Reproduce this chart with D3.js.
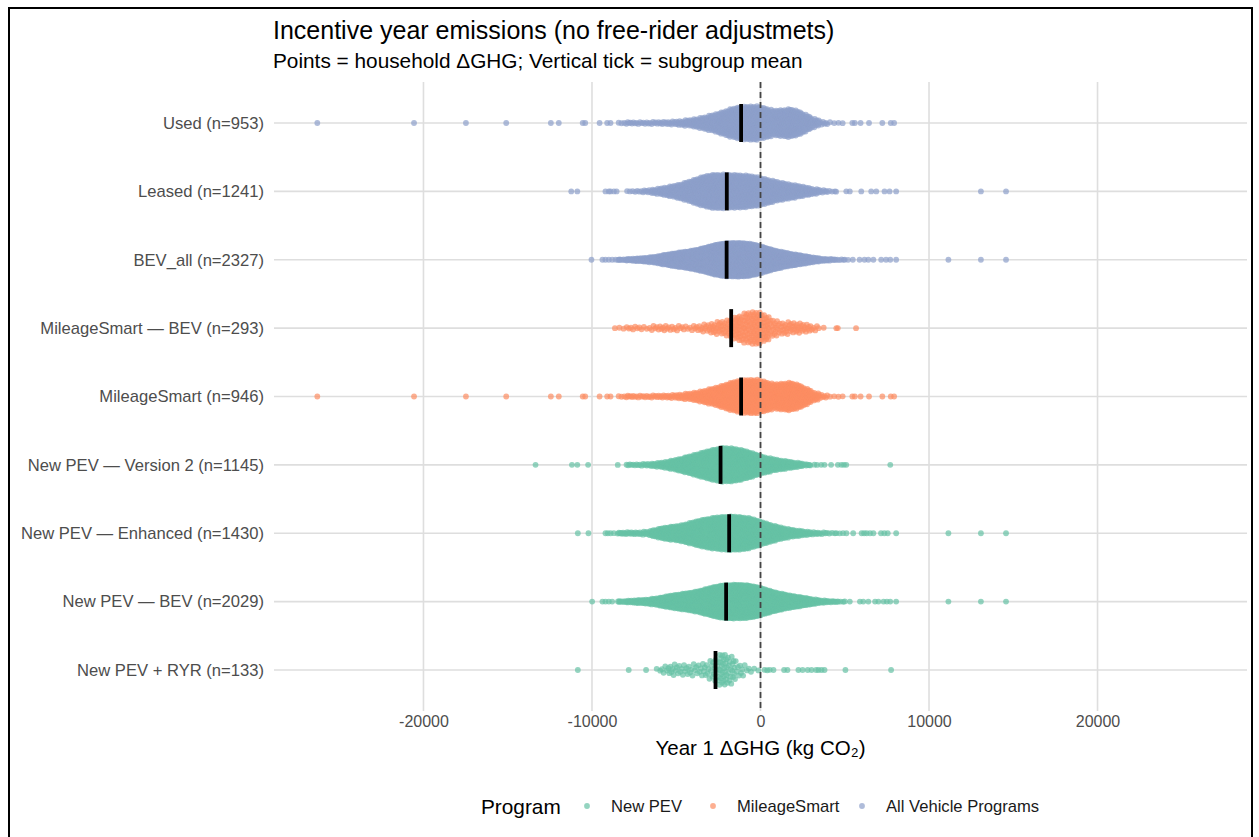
<!DOCTYPE html>
<html lang="en">
<head>
  <meta charset="UTF-8" />
  <title>Incentive year emissions</title>
  <script src="https://d3js.org/d3.v7.min.js"></script>
  <style>
    body { margin: 0; background: white; }
    svg { display: block; font-family: "Liberation Sans", Arial, sans-serif; }
    .axis text { fill: #4d4d4d; }
    .axis .domain { display: none; }
  </style>
</head>
<body>
  <svg width="1259" height="837"></svg>

  <script>
    // subgroups, top to bottom
    const groups = [
      "Used (n=953)", "Leased (n=1241)", "BEV_all (n=2327)",
      "MileageSmart \u2014 BEV (n=293)", "MileageSmart (n=946)",
      "New PEV \u2014 Version 2 (n=1145)", "New PEV \u2014 Enhanced (n=1430)",
      "New PEV \u2014 BEV (n=2029)", "New PEV + RYR (n=133)"
    ];
    const programOf = [
      "All Vehicle Programs", "All Vehicle Programs", "All Vehicle Programs",
      "MileageSmart", "MileageSmart",
      "New PEV", "New PEV", "New PEV", "New PEV"
    ];
    const programs = ["New PEV", "MileageSmart", "All Vehicle Programs"];
    const programColors = ["#66c2a5", "#fc8d62", "#8da0cb"];

    // subgroup means (kg CO2)
    const means = [-1150, -2000, -2010, -1740, -1150, -2370, -1860, -2040, -2670];

    // household counts per 500 kg bin, bins starting at -8500 up to 4500
    const binStart = -8500;
    const binWidth = 500;
    const countsUsed     = [3,6,5,5,6,7,8,11,15,22,32,41,56,69,82,82,86,78,54,65,76,61,39,17,6,2,2];
    const countsLeased   = [0,3,4,7,13,22,31,42,57,75,90,103,96,96,98,90,88,74,60,50,42,34,24,14,7,3,0];
    const countsBevAll   = [6,12,18,24,34,55,72,84,98,114,139,167,191,186,195,186,171,139,110,90,69,57,41,24,12,8,4];
    const countsMsBev    = [2,4,4,3,5,6,5,5,4,6,8,12,14,18,28,32,38,29,16,12,12,11,9,5,1,0,0];
    const countsMs       = [3,6,5,5,6,7,8,11,15,22,32,41,55,68,81,82,86,77,54,64,75,60,39,17,6,2,2];
    const countsPevV2    = [0,5,5,7,12,19,29,44,58,75,92,106,120,116,106,92,73,53,41,31,24,15,5,0,0,0,0];
    const countsPevEnh   = [8,8,8,10,26,44,49,54,72,90,103,113,120,123,120,113,97,74,56,41,28,21,13,8,5,3,0];
    const countsPevBev   = [6,11,16,21,30,48,63,74,85,99,121,145,167,161,168,162,149,121,96,78,60,50,35,21,11,7,3];
    const countsPevRyr   = [0,0,0,0,0,5,8,7,7,7,9,12,26,18,8,4,2,0,0,0,0,0,0,0,0,0,0];

    // isolated households outside the dense part
    const tailsUsed   = [-26300,-20560,-17480,-15090,-12440,-11970,-10550,-10400,-9550,-9100,-8900,5450,5600,5940,6440,7230,7730,7930];
    const tailsLeased = [-11230,-10870,-9200,-9000,-8900,-8700,-8540,4490,5090,5300,5980,6570,6870,7360,7660,8050,13080,14570];
    const tailsBevAll = [-10030,-9380,-9200,-9000,-8800,-8600,-8370,5000,5200,5480,5880,6170,6400,6700,7160,7450,7700,8050,11150,13080,14570];
    const tailsMsBev  = [-8640,4500,4590,5670];
    const tailsMs     = [-26300,-20560,-17480,-15090,-12440,-11970,-10550,-10400,-9550,-9100,-8900,5450,5600,5940,6440,7230,7730,7930];
    const tailsPevV2  = [-13350,-11190,-10870,-10230,-8470,2710,2910,3200,3350,3600,3800,4190,4590,4800,4950,5090,7700];
    const tailsPevEnh = [-10840,-10210,-9200,-9060,-8900,-8700,4500,4700,4900,5100,5500,6000,6150,6300,6500,6700,7150,7350,7550,8050,11150,13080,14570];
    const tailsPevBev = [-9990,-9380,-9200,-9000,-8800,-8370,4600,5000,5300,5900,6100,6400,6800,7000,7300,7500,7700,8050,11150,13080,14570];
    const tailsPevRyr = [-10840,-7820,-6790,-6160,240,400,550,770,1400,1600,2250,2500,2800,3030,3300,3440,3620,3800,5040,7750];

    const xTicks = [-20000, -10000, 0, 10000, 20000];

    const binCounts = [countsUsed, countsLeased, countsBevAll, countsMsBev, countsMs,
                       countsPevV2, countsPevEnh, countsPevBev, countsPevRyr];
    const tails = [tailsUsed, tailsLeased, tailsBevAll, tailsMsBev, tailsMs,
                   tailsPevV2, tailsPevEnh, tailsPevBev, tailsPevRyr];

    const svg = d3.select("svg");
    const panel = { left: 274, right: 1247, top: 82, bottom: 711 };

    const x = d3.scaleLinear().domain([-28870, 28870]).range([panel.left, panel.right]);
    const y = d3.scalePoint().domain(groups).range([panel.top, panel.bottom]).padding(0.6);
    const color = d3.scaleOrdinal().domain(programs).range(programColors);
    const swarmWidth = 17;

    // frame
    svg.append("rect")
      .attr("x", 9).attr("y", 8).attr("width", 1243).attr("height", 840)
      .attr("fill", "none").attr("stroke", "black").attr("stroke-width", 2);

    // grid
    svg.append("g").selectAll("line")
      .data(xTicks)
      .join("line")
      .attr("x1", d => x(d)).attr("x2", d => x(d))
      .attr("y1", panel.top).attr("y2", panel.bottom)
      .attr("stroke", "#dedede").attr("stroke-width", 1.6);

    svg.append("g").selectAll("line")
      .data(groups)
      .join("line")
      .attr("x1", panel.left).attr("x2", panel.right)
      .attr("y1", d => y(d)).attr("y2", d => y(d))
      .attr("stroke", "#dedede").attr("stroke-width", 1.6);

    // van der Corput sequence for quasirandom offsets
    function vdc(i) {
      let v = 0, d = 0.5;
      while (i > 0) { v += d * (i & 1); i >>= 1; d /= 2; }
      return v;
    }

    // build points per group
    const points = [];
    groups.forEach((g, gi) => {
      const counts = binCounts[gi];
      const smooth = counts.map((c, k) =>
        ((counts[k - 1] || 0) + 2 * c + (counts[k + 1] || 0)) / 4);
      const maxS = d3.max(smooth);
      const dens = v => {
        const p = (v - binStart) / binWidth - 0.5;
        const k = Math.floor(p), t = p - k;
        const a = smooth[k] || 0, b = smooth[k + 1] || 0;
        return (a + (b - a) * t) / maxS;
      };
      const vals = [];
      counts.forEach((c, k) => {
        for (let i = 0; i < c; i++) vals.push(binStart + k * binWidth + binWidth * (i + 0.5) / c);
      });
      tails[gi].forEach(v => vals.push(v));
      vals.sort((a, b) => a - b);
      vals.forEach((v, r) => {
        const off = (vdc(r + 1) - 0.5) * 2 * swarmWidth * dens(v);
        points.push({ g, v, off, program: programOf[gi] });
      });
    });

    svg.append("g").selectAll("circle")
      .data(points)
      .join("circle")
      .attr("cx", d => x(d.v))
      .attr("cy", d => y(d.g) + d.off)
      .attr("r", 2.9)
      .attr("fill", d => color(d.program))
      .attr("fill-opacity", 0.7);

    // zero line
    svg.append("line")
      .attr("x1", x(0)).attr("x2", x(0))
      .attr("y1", panel.top).attr("y2", panel.bottom)
      .attr("stroke", "#444").attr("stroke-width", 1.8)
      .attr("stroke-dasharray", "6,4");

    // mean ticks
    svg.append("g").selectAll("line")
      .data(groups)
      .join("line")
      .attr("x1", (d, i) => x(means[i])).attr("x2", (d, i) => x(means[i]))
      .attr("y1", d => y(d) - 19).attr("y2", d => y(d) + 19)
      .attr("stroke", "black").attr("stroke-width", 3.8);

    // axes
    svg.append("g")
      .attr("class", "axis")
      .attr("transform", `translate(0, ${panel.bottom})`)
      .call(d3.axisBottom(x).tickValues(xTicks).tickSize(0).tickPadding(5).tickFormat(d => String(d)))
      .selectAll("text").style("font-size", "16px");

    svg.append("g")
      .attr("class", "axis")
      .attr("transform", `translate(${panel.left}, 0)`)
      .call(d3.axisLeft(y).tickSize(0).tickPadding(10))
      .selectAll("text").style("font-size", "16.6px");

    svg.append("text")
      .attr("x", x(0)).attr("y", 755)
      .attr("text-anchor", "middle")
      .attr("font-size", 20.5)
      .text("Year 1 \u0394GHG (kg CO\u2082)");

    // titles
    svg.append("text")
      .attr("x", 273).attr("y", 39)
      .attr("font-size", 25)
      .text("Incentive year emissions (no free-rider adjustmets)");

    svg.append("text")
      .attr("x", 273).attr("y", 68)
      .attr("font-size", 20.8)
      .text("Points = household \u0394GHG; Vertical tick = subgroup mean");

    // legend
    const legend = svg.append("g").attr("transform", "translate(0, 806)");
    legend.append("text")
      .attr("x", 481).attr("y", 7.5)
      .attr("font-size", 20.8)
      .text("Program");

    const legendX = [587, 713, 862];
    legend.selectAll("circle")
      .data(programs)
      .join("circle")
      .attr("cx", (d, i) => legendX[i])
      .attr("cy", 0)
      .attr("r", 2.9)
      .attr("fill", d => color(d))
      .attr("fill-opacity", 0.7);

    legend.selectAll("text.item")
      .data(programs)
      .join("text")
      .attr("class", "item")
      .attr("x", (d, i) => legendX[i] + 24)
      .attr("y", 6)
      .attr("font-size", 16.6)
      .attr("fill", "#1a1a1a")
      .text(d => d);
  </script>
</body>
</html>
